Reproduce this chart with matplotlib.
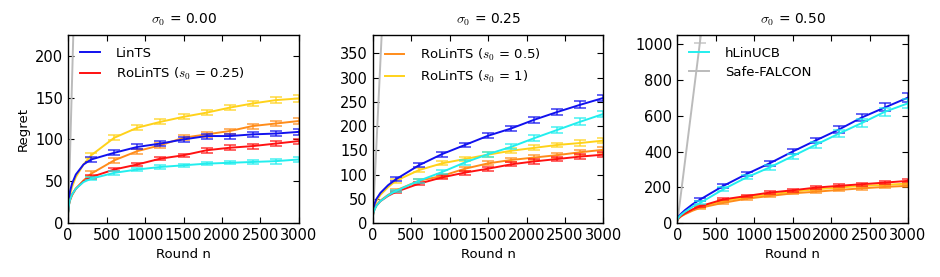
import numpy as np
import matplotlib
matplotlib.use("Agg")
import matplotlib.pyplot as plt

plt.rcParams['mathtext.fontset'] = 'cm'
plt.rcParams['font.family'] = 'DejaVu Sans'

# rounds where the curves are sampled
rounds = [1, 10, 25, 50, 100, 200, 300, 600, 900, 1200, 1500, 1800, 2100, 2400, 2700, 3000]
# rounds where error bars are drawn
err_rounds = [300, 600, 900, 1200, 1500, 1800, 2100, 2400, 2700, 3000]
sf_rounds = [0, 300, 600, 900, 1200, 1500, 1800, 2100, 2400, 2700, 3000]

sigmas = ["0.00", "0.25", "0.50"]
ylims = [225, 388, 1053]
ysteps = [50, 50, 200]

names = ["LinTS", "RoLinTS ($s_0$ = 0.25)", "RoLinTS ($s_0$ = 0.5)",
         "RoLinTS ($s_0$ = 1)", "hLinUCB", "Safe-FALCON"]
colors = ["#1111ee", "#ff1111", "#ff8c1a", "#ffd21a", "#22eeee", "#bbbbbb"]

# sigma0 = 0.00
lints_0 = [15, 28, 38, 47, 58, 70, 76, 84, 91, 95, 100, 104, 104, 106, 107, 109]
ro025_0 = [14, 22, 28, 34, 41, 50, 55, 64, 70, 77, 81, 87, 90, 92, 95, 98]
ro05_0 = [14, 22, 27, 33, 41, 51, 59, 75, 86, 93, 102, 106, 110, 116, 119, 122]
ro1_0 = [14, 25, 34, 43, 55, 70, 81, 102, 114, 121, 127, 132, 138, 143, 147, 149]
hlin_0 = [13, 21, 28, 34, 41, 49, 53, 60, 64, 67, 69, 71, 72, 73, 74, 76]
safe_0 = [0, 1010, 2030, 3050, 4060, 5080, 6100, 7110, 8130, 9150, 10160]

lints_0_err = [3, 3, 3, 3, 3, 3, 3, 3, 3, 4]
ro025_0_err = [2, 2, 2, 2, 2, 3, 3, 3, 3, 3]
ro05_0_err = [3, 3, 3, 3, 3, 3, 3, 3, 3, 4]
ro1_0_err = [3, 3, 3, 3, 3, 3, 3, 3, 4, 4]
hlin_0_err = [2, 2, 2, 2, 2, 2, 2, 2, 3, 3]
safe_0_err = [20, 30, 40, 50, 60, 70, 80, 90, 100, 110]

# sigma0 = 0.25
lints_1 = [16, 30, 40, 50, 62, 78, 90, 119, 142, 161, 180, 195, 213, 229, 244, 258]
ro025_1 = [14, 22, 29, 36, 45, 56, 64, 81, 94, 104, 112, 121, 127, 132, 137, 141]
ro05_1 = [14, 22, 29, 37, 46, 58, 67, 87, 97, 112, 123, 130, 135, 140, 146, 151]
ro1_1 = [15, 27, 36, 46, 58, 74, 87, 109, 123, 132, 141, 149, 155, 161, 165, 170]
hlin_1 = [13, 21, 28, 36, 45, 57, 66, 87, 105, 125, 142, 157, 175, 192, 209, 225]
safe_1 = [0, 1000, 2010, 3020, 4030, 5040, 6050, 7060, 8070, 9080, 10090]

lints_1_err = [4, 4, 5, 5, 5, 6, 6, 6, 7, 7]
ro025_1_err = [3, 3, 4, 4, 4, 4, 5, 5, 5, 5]
ro05_1_err = [3, 4, 4, 4, 4, 5, 5, 5, 5, 6]
ro1_1_err = [4, 4, 4, 4, 5, 5, 5, 5, 6, 6]
hlin_1_err = [3, 4, 4, 5, 5, 5, 6, 6, 7, 7]
safe_1_err = [20, 30, 40, 50, 60, 70, 80, 90, 100, 110]

# sigma0 = 0.50
lints_2 = [18, 30, 40, 52, 72, 105, 132, 208, 274, 334, 400, 462, 523, 591, 647, 702]
ro025_2 = [15, 23, 30, 40, 54, 77, 94, 132, 151, 170, 183, 198, 208, 217, 226, 236]
ro05_2 = [14, 22, 28, 37, 49, 69, 85, 113, 136, 151, 166, 175, 185, 194, 202, 208]
ro1_2 = [15, 23, 30, 39, 52, 74, 91, 123, 145, 160, 175, 189, 198, 208, 213, 221]
hlin_2 = [16, 26, 35, 46, 63, 91, 113, 189, 255, 311, 374, 438, 500, 560, 623, 670]
safe_2 = [0, 1030, 2060, 3090, 4120, 5150, 6180, 7210, 8240, 9270, 10300]

lints_2_err = [8, 10, 11, 13, 14, 16, 18, 20, 22, 25]
ro025_2_err = [5, 6, 6, 7, 7, 7, 8, 8, 8, 9]
ro05_2_err = [5, 5, 6, 6, 6, 7, 7, 7, 8, 8]
ro1_2_err = [5, 5, 6, 6, 6, 7, 7, 7, 8, 8]
hlin_2_err = [8, 10, 11, 13, 14, 16, 18, 20, 22, 24]
safe_2_err = [20, 30, 40, 50, 60, 70, 80, 90, 100, 110]

panels = [
    ([lints_0, ro025_0, ro05_0, ro1_0, hlin_0, safe_0],
     [lints_0_err, ro025_0_err, ro05_0_err, ro1_0_err, hlin_0_err, safe_0_err]),
    ([lints_1, ro025_1, ro05_1, ro1_1, hlin_1, safe_1],
     [lints_1_err, ro025_1_err, ro05_1_err, ro1_1_err, hlin_1_err, safe_1_err]),
    ([lints_2, ro025_2, ro05_2, ro1_2, hlin_2, safe_2],
     [lints_2_err, ro025_2_err, ro05_2_err, ro1_2_err, hlin_2_err, safe_2_err]),
]

# which legend entries go in which panel
legend_groups = [[0, 1], [2, 3], [4, 5]]
# drawing order (back to front)
order = [5, 3, 2, 0, 1, 4]

fig = plt.figure(figsize=(9.4, 2.77), dpi=100)
lefts = [0.0725, 0.3965, 0.7205]
width = 0.2455

for p, (series, errs) in enumerate(panels):
    ax = fig.add_axes([lefts[p], 0.195, width, 0.679])
    handles = {}
    for i in order:
        if i == 5:
            x = sf_rounds
            ex = sf_rounds[1:]
            ey = series[i][1:]
        else:
            x = rounds
            ex = err_rounds
            ey = series[i][6:]
        line, = ax.plot(x, series[i], color=colors[i], lw=1.4, label=names[i])
        ax.errorbar(ex, ey, yerr=errs[i], fmt='none', ecolor=colors[i],
                    elinewidth=1.3, capsize=4, capthick=1.3, alpha=0.7)
        handles[i] = line
    ax.set_xlim(0, 3000)
    ax.set_ylim(0, ylims[p])
    ax.set_xticks([0, 500, 1000, 1500, 2000, 2500, 3000])
    ax.set_yticks(np.arange(0, ylims[p], ysteps[p]))
    ax.tick_params(direction='in', top=True, right=True, labelsize=10.5, length=4)
    ax.set_xlabel("Round n", fontsize=9.5)
    if p == 0:
        ax.set_ylabel("Regret", fontsize=9.5)
    ax.set_title(r"$\sigma_0$ = " + sigmas[p], fontsize=10, pad=8)
    hs = [handles[i] for i in legend_groups[p]]
    ax.legend(hs, [h.get_label() for h in hs], loc='upper left', frameon=False,
              fontsize=9.5, handlelength=1.5, handletextpad=1.2, borderaxespad=0.5,
              labelspacing=0.45)
    for s in ax.spines.values():
        s.set_linewidth(1.0)

fig.savefig("out.png", dpi=100)
